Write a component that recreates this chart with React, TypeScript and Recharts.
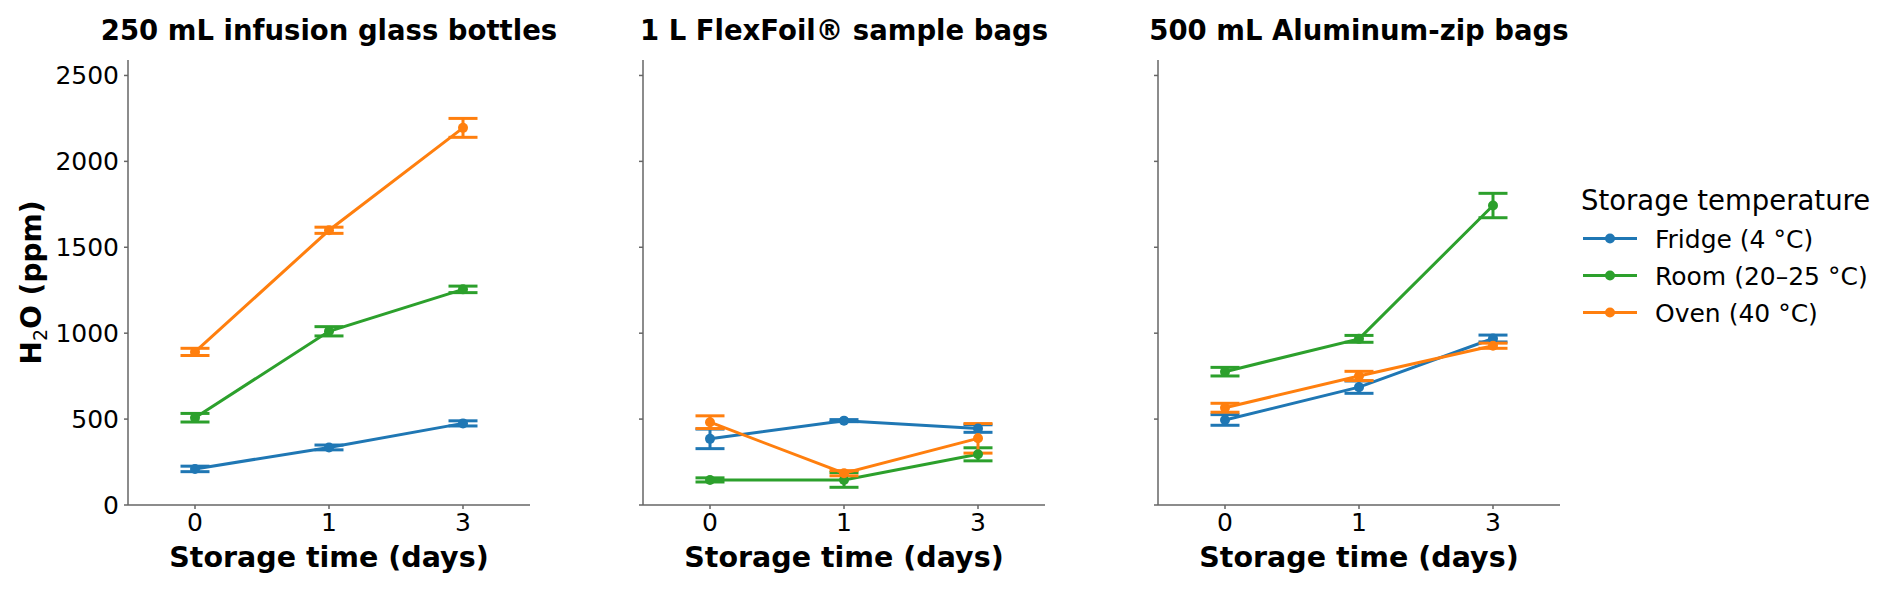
import React from 'react';
import { LineChart, Line, XAxis, YAxis, ErrorBar, Legend } from 'recharts';

// ---- data ----
const days = ['0', '1', '3'];
const seriesNames = ['Fridge (4 °C)', 'Room (20–25 °C)', 'Oven (40 °C)'];
const seriesColors = ['#1f77b4', '#2ca02c', '#ff7f0e'];
const panelTitles = ['250 mL infusion glass bottles', '1 L FlexFoil® sample bags', '500 mL Aluminum-zip bags'];
const yTicks = [0, 500, 1000, 1500, 2000, 2500];

const glassFridge = [210, 335, 475];
const glassFridgeErr = [16, 14, 15];
const glassRoom = [508, 1011, 1255];
const glassRoomErr = [25, 27, 19];
const glassOven = [891, 1599, 2195];
const glassOvenErr = [21, 18, 55];

const foilFridge = [385, 491, 445];
const foilFridgeErr = [57, 6, 22];
const foilRoom = [146, 146, 295];
const foilRoomErr = [12, 43, 38];
const foilOven = [482, 185, 388];
const foilOvenErr = [37, 15, 86];

const zipFridge = [495, 686, 969];
const zipFridgeErr = [31, 36, 20];
const zipRoom = [776, 967, 1743];
const zipRoomErr = [25, 20, 71];
const zipOven = [566, 751, 927];
const zipOvenErr = [26, 27, 15];

const buildRows = (
  f: number[], fe: number[], r: number[], re: number[], o: number[], oe: number[]
) =>
  days.map((d, i) => ({
    day: d,
    fridge: f[i], fridgeErr: fe[i],
    room: r[i], roomErr: re[i],
    oven: o[i], ovenErr: oe[i],
  }));

const panelData = [
  buildRows(glassFridge, glassFridgeErr, glassRoom, glassRoomErr, glassOven, glassOvenErr),
  buildRows(foilFridge, foilFridgeErr, foilRoom, foilRoomErr, foilOven, foilOvenErr),
  buildRows(zipFridge, zipFridgeErr, zipRoom, zipRoomErr, zipOven, zipOvenErr),
];

const seriesKeys = ['fridge', 'room', 'oven'];

const FONT = 'DejaVu Sans';
const AXIS_COLOR = '#666666';
const PANEL_LEFTS = [0, 515, 1030];
const Y_W = 128;
const PLOT_W = 402;

const XLabel = (props: any) => {
  const vb = props.viewBox || {};
  const x = (vb.x ?? Y_W) + (vb.width ?? PLOT_W) / 2;
  const y = (vb.y ?? 505) + 62;
  return (
    <text x={x} y={y} textAnchor="middle" fontSize={28.5} fontWeight="bold" fill="#000" fontFamily={FONT}>
      Storage time (days)
    </text>
  );
};

const YLabel = () => {
  const cx = 41;
  const cy = 282.5;
  return (
    <text
      x={cx}
      y={cy}
      transform={`rotate(-90, ${cx}, ${cy})`}
      textAnchor="middle"
      fontSize={28}
      fontWeight="bold"
      fill="#000"
      fontFamily={FONT}
    >
      <tspan>H</tspan>
      <tspan fontSize={19} fontWeight="normal" dy={6}>2</tspan>
      <tspan dy={-6}>O (ppm)</tspan>
    </text>
  );
};

const LegendContent = () => {
  return (
    <svg width={312} height={160} style={{ display: 'block', overflow: 'visible' }}>
      <text x={1} y={40} fontSize={27.5} fill="#000" fontFamily={FONT}>Storage temperature</text>
      {seriesNames.map((name, i) => {
        const cy = 68.5 + i * 37;
        return (
          <g key={i}>
            <line x1={3} x2={57} y1={cy} y2={cy} stroke={seriesColors[i]} strokeWidth={3} />
            <circle cx={30} cy={cy} r={5} fill={seriesColors[i]} />
            <text x={75} y={cy + 9} fontSize={25} fill="#000" fontFamily={FONT}>{name}</text>
          </g>
        );
      })}
    </svg>
  );
};

const Panel = ({ index }: { index: number }) => {
  const isFirst = index === 0;
  const isLast = index === 2;
  const width = isLast ? 862 : Y_W + PLOT_W + 10;
  const right = width - Y_W - PLOT_W;
  return (
    <div style={{ position: 'absolute', left: PANEL_LEFTS[index], top: 0 }}>
      <LineChart
        width={width}
        height={591}
        data={panelData[index]}
        margin={{ top: 60, right, bottom: 0, left: 0 }}
        style={{ fontFamily: FONT }}
      >
        <XAxis
          dataKey="day"
          type="category"
          scale="band"
          height={86}
          tickSize={4}
          tickMargin={4}
          tick={{ fontSize: 25, fill: '#000', fontFamily: FONT }}
          axisLine={{ stroke: AXIS_COLOR, strokeWidth: 1.5 }}
          tickLine={{ stroke: AXIS_COLOR, strokeWidth: 1.5 }}
          label={<XLabel />}
        />
        <YAxis
          width={Y_W}
          type="number"
          domain={[0, 2590]}
          ticks={yTicks}
          interval={0}
          tickSize={4}
          tickMargin={5}
          tickFormatter={isFirst ? (v: number) => String(v) : () => ''}
          tick={{ fontSize: 25, fill: '#000', fontFamily: FONT }}
          axisLine={{ stroke: AXIS_COLOR, strokeWidth: 1.5 }}
          tickLine={{ stroke: AXIS_COLOR, strokeWidth: 1.5 }}
          label={isFirst ? <YLabel /> : undefined}
        />
        {seriesKeys.map((k, i) => (
          <Line
            key={k}
            type="linear"
            dataKey={k}
            name={seriesNames[i]}
            stroke={seriesColors[i]}
            strokeWidth={3}
            dot={{ r: 5, fill: seriesColors[i], stroke: seriesColors[i], strokeWidth: 0 }}
            activeDot={false}
            isAnimationActive={false}
          >
            <ErrorBar
              dataKey={`${k}Err`}
              width={14.5}
              strokeWidth={3}
              stroke={seriesColors[i]}
              direction="y"
              isAnimationActive={false}
            />
          </Line>
        ))}
        {isLast && (
          <Legend
            layout="vertical"
            align="center"
            verticalAlign="middle"
            content={<LegendContent />}
            wrapperStyle={{ left: 550, top: 170, width: 312, height: 160 }}
          />
        )}
      </LineChart>
    </div>
  );
};

export default function App() {
  return (
    <div
      style={{
        position: 'absolute',
        left: 0,
        top: 0,
        width: 1892,
        height: 591,
        background: '#fff',
        fontFamily: FONT,
        overflow: 'hidden',
      }}
    >
      {[0, 1, 2].map((i) => (
        <Panel key={i} index={i} />
      ))}
      <svg width={1892} height={591} style={{ position: 'absolute', left: 0, top: 0, pointerEvents: 'none' }}>
        {panelTitles.map((t, i) => (
          <text
            key={i}
            x={PANEL_LEFTS[i] + Y_W + PLOT_W / 2}
            y={40}
            textAnchor="middle"
            fontSize={27.5}
            fontWeight="bold"
            fill="#000"
            fontFamily={FONT}
          >
            {t}
          </text>
        ))}
      </svg>
    </div>
  );
}
